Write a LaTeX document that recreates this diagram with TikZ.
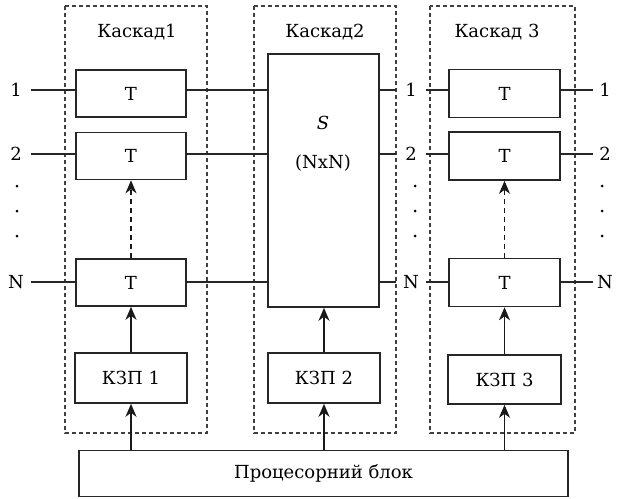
\documentclass[tikz,border=0pt]{standalone}
\usepackage{fontspec}
\setmainfont{DejaVu Serif}
\usetikzlibrary{arrows.meta}
\begin{document}
\begin{tikzpicture}[x=1pt,y=-1pt,
  every node/.style={font=\fontsize{18}{21}\selectfont},
  blk/.style={draw=black!85,line width=1.6pt,inner sep=0pt},
  stage/.style={draw=black!75,line width=1.1pt,dash pattern=on 4pt off 3pt},
  wire/.style={draw=black!85,line width=1.2pt},
  arr/.style={draw=black!90,line width=1.4pt,-{Stealth[length=13pt,width=11pt,inset=4pt]}},
  darr/.style={arr,dash pattern=on 5pt off 4pt},
  port/.style={inner sep=0pt,minimum width=30pt,minimum height=14pt},
  dot/.style={circle,fill=black,inner sep=0pt,minimum size=3pt}]
\useasboundingbox (0,0) rectangle (617,498);

% cascade frames
\draw[stage] (65,6) rectangle (207,433);
\draw[stage] (254,6) rectangle (396,433);
\draw[stage] (430,6) rectangle (575,433);
\node (c1) at (137,32) {Каскад1};
\node (c2) at (325,32) {Каскад2};
\node (c3) at (497,32) {Каскад 3};

% stage 1 and stage 3 cells
\foreach \r/\y in {1/93.5,2/156,n/282.5}{
  \node[blk,minimum width=110pt,minimum height=47pt] (a\r) at (131,\y) {T};
  \node[blk,minimum width=111pt,minimum height=48pt] (b\r) at (504.5,\y) {T};
}
% switch
\node[blk,minimum width=111pt,minimum height=253pt] (sw) at (323.5,180.5) {};
\node (sl) at (323,123) {\itshape S};
\node (sn) at (323,163) {(NxN)};

% control units
\node[blk,minimum width=112pt,minimum height=50pt] (k1) at (131,378) {КЗП 1};
\node[blk,minimum width=112pt,minimum height=50pt] (k2) at (324,378) {КЗП 2};
\node[blk,minimum width=113pt,minimum height=49pt] (k3) at (504.5,379.5) {КЗП 3};
\node[blk,minimum width=489pt,minimum height=46pt] (cpu) at (323.5,473.5) {Процесорний блок};

% port labels
\foreach \r/\t/\y in {1/1/90,2/2/154,n/N/282}{
  \node[port] (l\r) at (16,\y) {\t};
  \node[port] (m\r) at (411,\y) {\t};
  \node[port,minimum width=24pt] (o\r) at (605,\y) {\t};
  \draw[wire] (l\r.east) -- (a\r.west|-l\r);
  \draw[wire] (a\r.east|-l\r) -- (sw.west|-l\r);
  \draw[wire] (sw.east|-m\r) -- (m\r.west);
  \draw[wire] (m\r.east) -- (b\r.west|-m\r);
  \draw[wire] (b\r.east|-o\r) -- (o\r.west);
}
\foreach \x in {17,415,602}
  \foreach \y in {186,211,236}
    \node[dot] at (\x,\y) {};

% control arrows
\draw[darr] (an.north) -- (a2.south);
\draw[darr] (bn.north) -- (b2.south);
\draw[arr] (k1.north) -- (an.south);
\draw[arr] (k2.north) -- (k2.north|-sw.south);
\draw[arr] (k3.north) -- (bn.south);
\draw[arr] (cpu.north-|k1) -- (k1.south);
\draw[arr] (cpu.north-|k2) -- (k2.south);
\draw[arr] (cpu.north-|k3) -- (k3.south);
\end{tikzpicture}
\end{document}
